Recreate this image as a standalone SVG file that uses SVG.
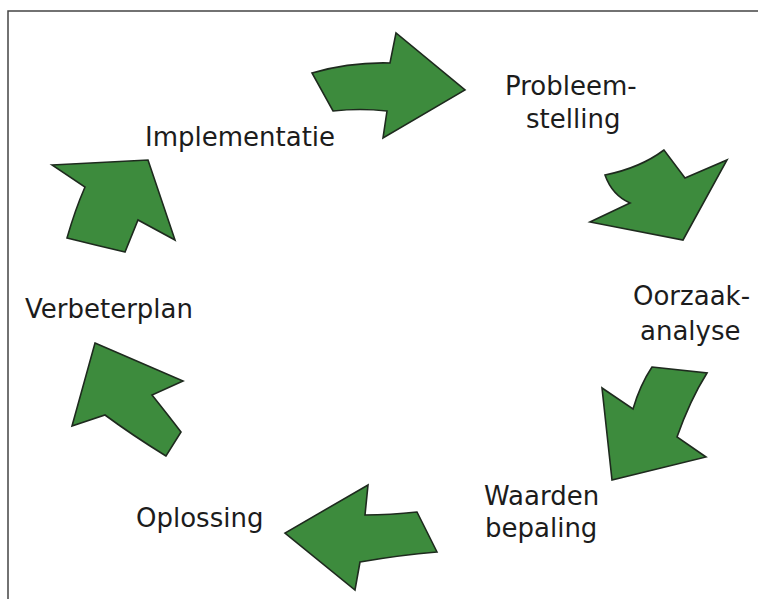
<svg xmlns="http://www.w3.org/2000/svg" width="758" height="599" viewBox="0 0 758 599">
<style>
.arr{fill:#3d8b3d;stroke:#1e2a1e;stroke-width:1.6;stroke-linejoin:miter}
.lbl{font-family:"DejaVu Sans","Liberation Sans",sans-serif;font-size:26px;fill:#1c1c1c}
.frame{stroke:#444;stroke-width:1.5;fill:none}
</style>
<rect width="758" height="599" fill="#ffffff"/>
<path class="frame" d="M758,11 L8,11 L8,599"/>
<g id="connectors">
<path id="arrow-1" class="arr" d="M312,73 Q350,62 390,63 L396,33 L465,90 L383,138 L387,111 Q360,108 333,111 Z"/>
<path id="arrow-2" class="arr" d="M605,175 Q640,168 664,150 L685,178 L727,160 L683,240 L590,222 L630,203 Q612,195 605,175 Z"/>
<path id="arrow-3" class="arr" d="M652,367 L707,373 Q690,400 677,437 L706,457 L612,480 L602,388 L633,409 Q640,385 652,367 Z"/>
<path id="arrow-4" class="arr" d="M417,512 L437,552 Q400,555 360,562 L355,590 L285,533 L368,485 L365,515 Q390,515 417,512 Z"/>
<path id="arrow-5" class="arr" d="M95,343 L183,381 L152,395 Q168,415 181,432 L166,456 Q132,435 105,415 L72,426 Z"/>
<path id="arrow-6" class="arr" d="M52,165 L148,160 L175,240 L138,220 L125,252 Q95,245 67,238 Q75,210 85,187 Z"/>
</g>
<g id="node-probleemstelling">
<text class="lbl" x="505" y="95">Probleem-</text>
<text class="lbl" x="526" y="128">stelling</text>
</g>
<g id="node-oorzaakanalyse">
<text class="lbl" x="633" y="305">Oorzaak-</text>
<text class="lbl" x="640" y="340">analyse</text>
</g>
<g id="node-waardenbepaling">
<text class="lbl" x="484" y="505">Waarden</text>
<text class="lbl" x="485" y="537">bepaling</text>
</g>
<g id="node-oplossing">
<text class="lbl" x="136" y="527">Oplossing</text>
</g>
<g id="node-verbeterplan">
<text class="lbl" x="25" y="318">Verbeterplan</text>
</g>
<g id="node-implementatie">
<text class="lbl" x="145" y="146">Implementatie</text>
</g>
</svg>
